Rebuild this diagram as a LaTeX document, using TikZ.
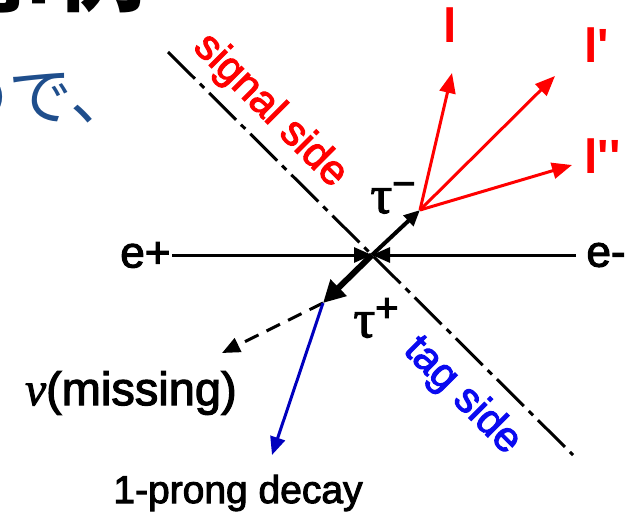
\documentclass[tikz,border=0pt]{standalone}
\usepackage{fontspec}
\setmainfont{Liberation Sans}[FakeBold=2.5]
\newfontfamily\lepfont{Liberation Sans}[Ligatures=TeXOff]
\newfontfamily\jpfont{Noto Sans CJK JP}
\newfontfamily\grfont{Liberation Serif}[FakeBold=2]
\usetikzlibrary{arrows.meta}

\definecolor{sigred}{RGB}{255,0,0}
\definecolor{tagblue}{RGB}{10,10,240}
\definecolor{prongblue}{RGB}{0,0,190}
\definecolor{slideblue}{RGB}{31,78,140}

\begin{document}
\begin{tikzpicture}[x=1pt, y=-1pt, line width=3pt,
  lbl/.style={font=\fontsize{44}{48}\selectfont, inner sep=0pt},
  side/.style={font=\fontsize{42}{46}\selectfont, inner sep=0pt, rotate=-45},
  lep/.style={font=\lepfont\fontsize{48}{52}\selectfont\bfseries, inner sep=0pt, text=sigred, anchor=base west},
  tip/.style={-{Triangle[length=18pt,width=15pt]}},
  redtip/.style={sigred, -{Triangle[length=20pt,width=16pt]}},
  dashdot/.style={dash pattern=on 38pt off 7pt on 6pt off 7pt}]
  \useasboundingbox (0,0) rectangle (639,516);
  \clip (0,0) rectangle (639,516);
  % slide text cut off at the edges
  \node[font=\jpfont\bfseries\fontsize{88}{90}\selectfont, inner sep=0pt, anchor=base west] (title) at (-32,5) {事例};
  \node[font=\jpfont\fontsize{64}{68}\selectfont, text=slideblue, inner sep=0pt, anchor=base west] (slide) at (-57,120) {ので、};
  % collision point and tau ends
  \coordinate (ip) at (372,255);
  \coordinate (tm) at (420,210);
  \coordinate (tp) at (323,303);
  % beams
  \node[lbl, anchor=east] (ep) at (172,255) {e+};
  \node[lbl, anchor=west, inner xsep=9pt] (em) at (576,255) {e-};
  \draw[tip] (ep) -- (ip);
  \draw[tip] (em) -- (ip);
  % dividing line
  \coordinate (dtop) at (168,52);
  \coordinate (dbot) at (573,455);
  \draw[dashdot] (dtop) -- (dbot);
  \node[side, text=sigred] (sig) at (270,111) {signal side};
  \node[side, text=tagblue] (tag) at (462,396) {tag side};
  % tau pair
  \draw[line width=4pt, -{Triangle[length=16pt,width=14pt]}] (ip) -- (tm);
  \draw[line width=6pt, -{Triangle[length=22pt,width=22pt]}] (ip) -- (tp);
  \node[inner sep=0pt, font=\fontsize{54}{58}\selectfont] (taum) at (393,198)
    {{\grfont τ}\raisebox{16pt}{\fontsize{40}{40}\selectfont −}};
  \node[inner sep=0pt, font=\fontsize{54}{58}\selectfont] (taup) at (376,318)
    {{\grfont τ}\raisebox{16pt}{\fontsize{40}{40}\selectfont +}};
  % signal side leptons
  \coordinate (la) at (452,73);
  \coordinate (lb) at (555,76);
  \coordinate (lc) at (572,165);
  \draw[redtip] (tm) -- (la);
  \draw[redtip] (tm) -- (lb);
  \draw[redtip] (tm) -- (lc);
  \node[lep] (laname) at (442,43) {l};
  \node[lep] (lbname) at (583,63) {l'};
  \node[lep] (lcname) at (583,173) {l''};
  % tag side decay
  \coordinate (nu) at (222,353);
  \coordinate (prong) at (272,455);
  \draw[dash pattern=on 15pt off 9pt, tip] (tp) -- (nu);
  \draw[prongblue, tip] (tp) -- (prong);
  \node[lbl, font=\fontsize{47}{50}\selectfont] (nuname) at (131,393) {{\grfont\itshape ν}(missing)};
  \node[inner sep=0pt, font=\fontsize{39}{42}\selectfont] (decay) at (238,493) {1-prong decay};
\end{tikzpicture}
\end{document}
